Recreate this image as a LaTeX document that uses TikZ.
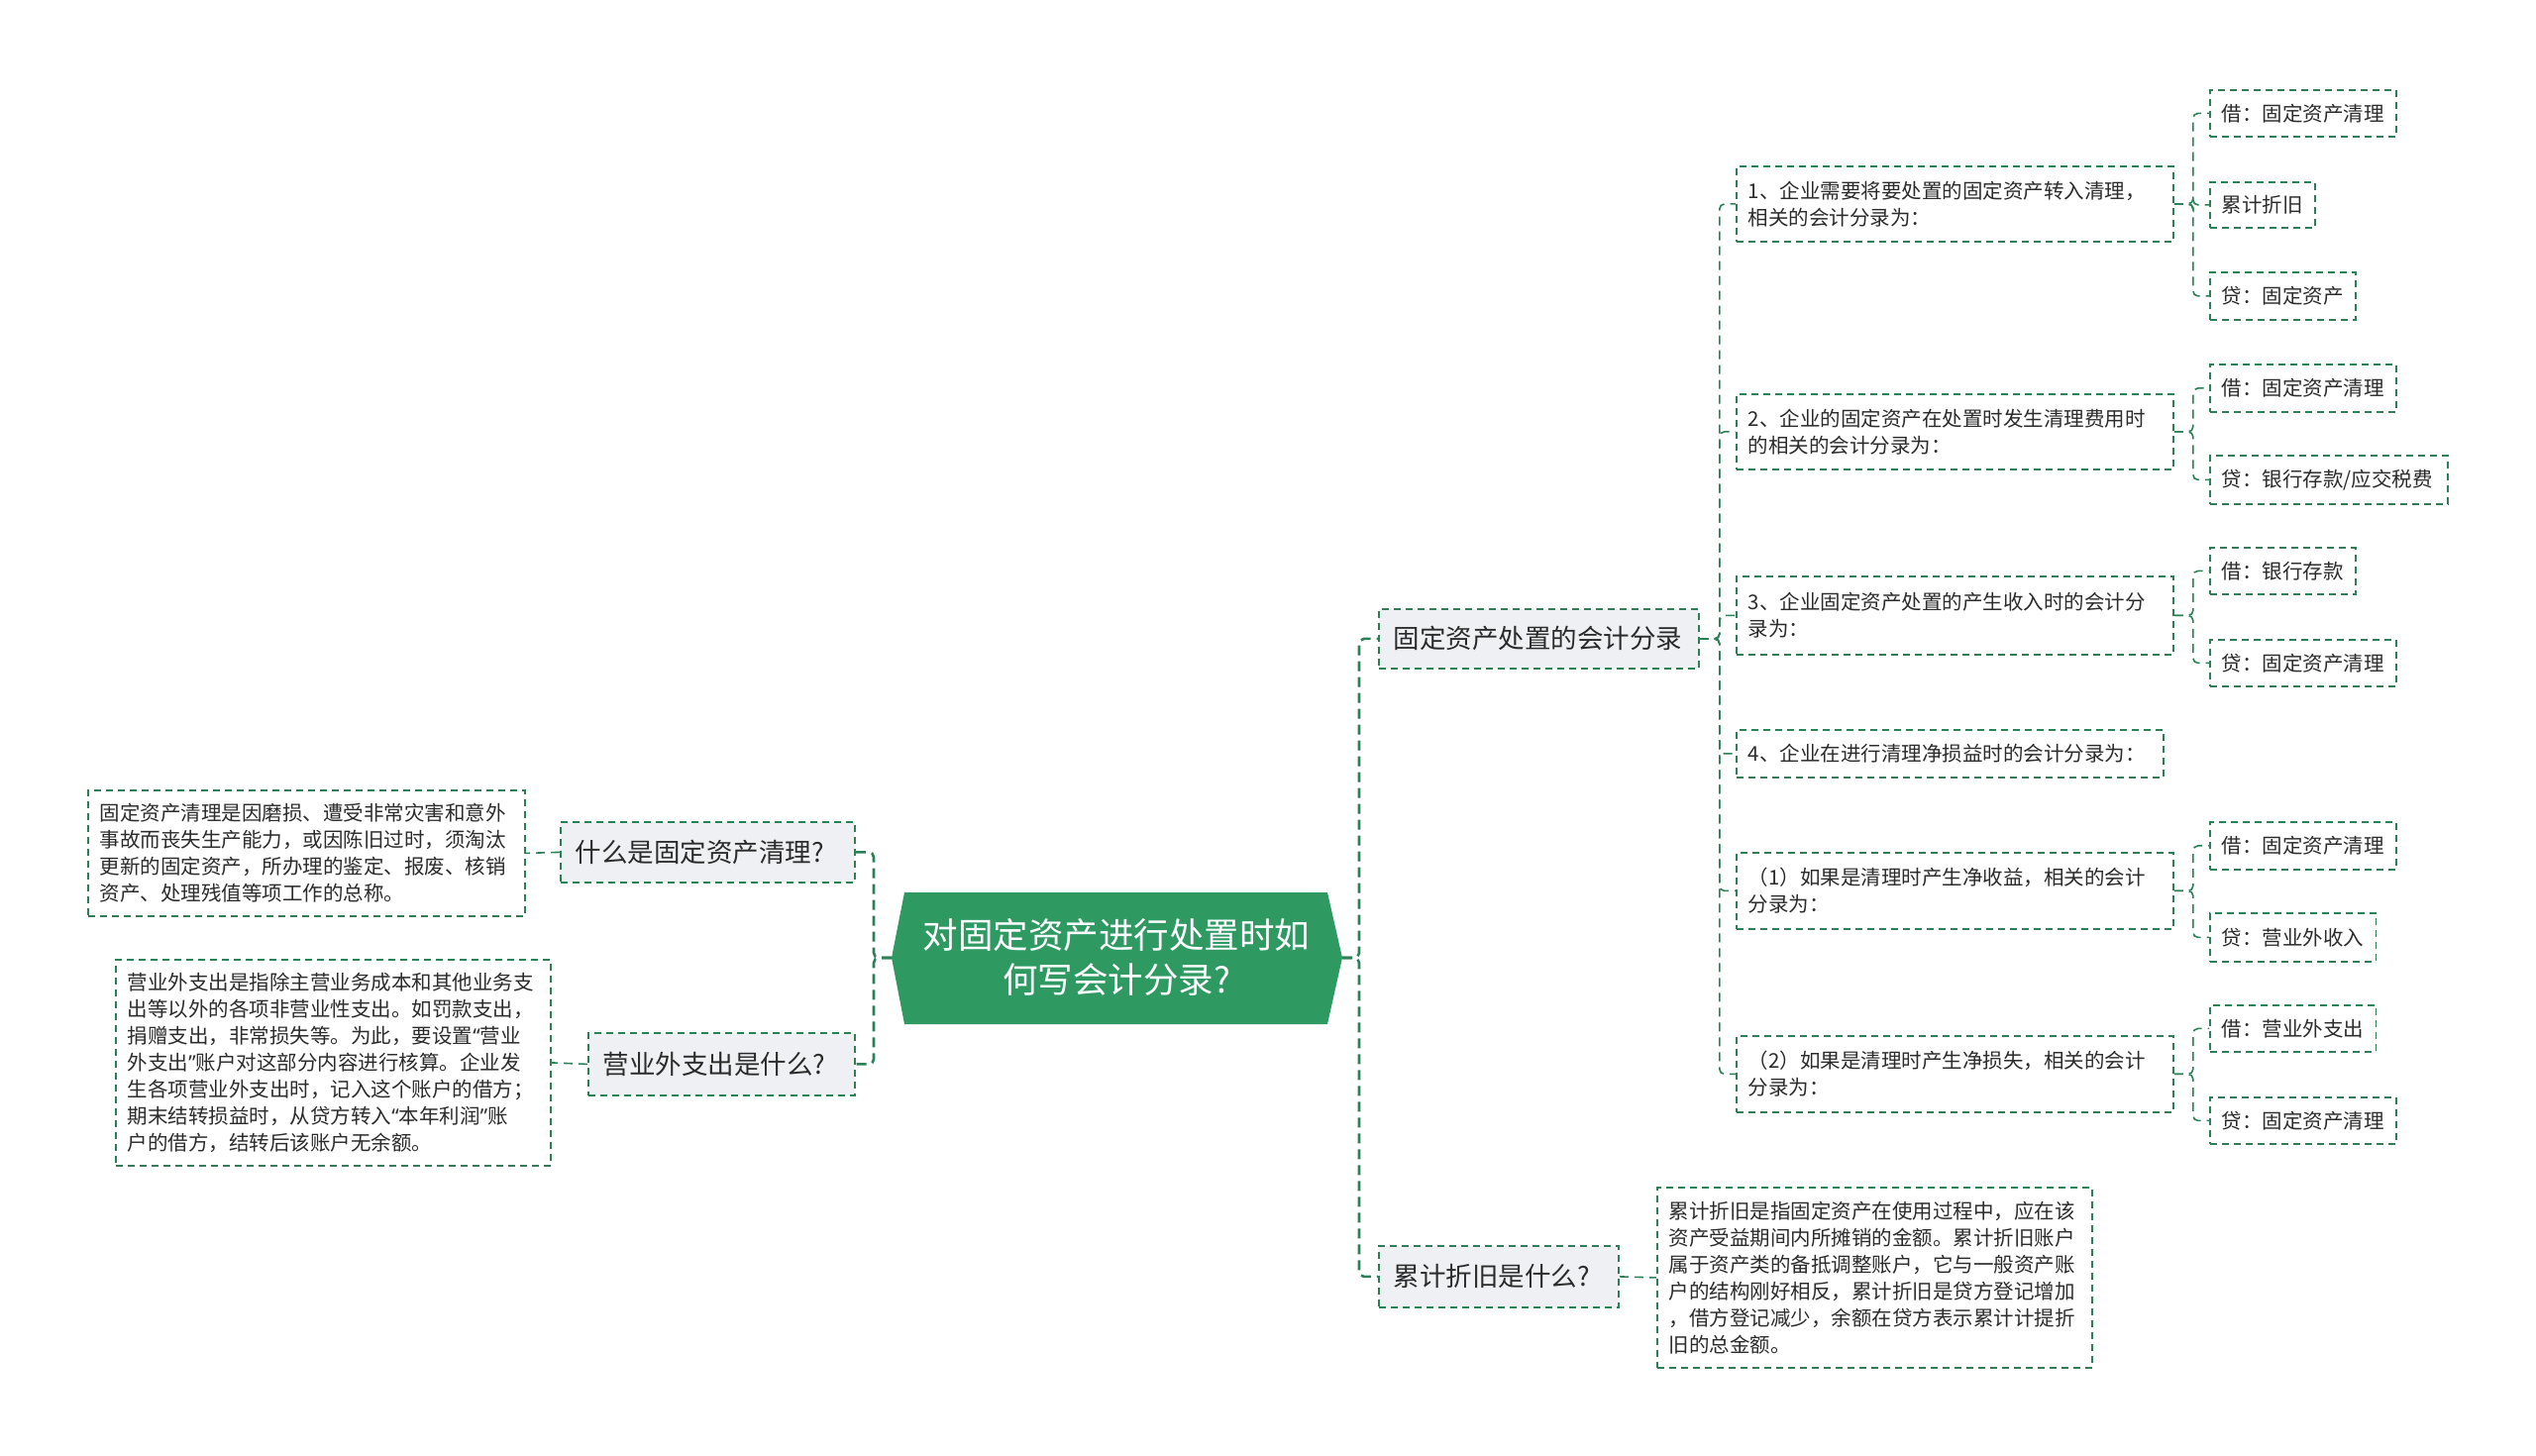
\documentclass[tikz,border=0pt]{standalone}
\usepackage{fontspec}
\setmainfont{Noto Sans CJK SC}
\newfontfamily\latq{Noto Sans}
\newcommand\myLq{{\latq “}}
\newcommand\myRq{{\latq ”}}
\definecolor{lg}{HTML}{2B8056}
\definecolor{rootg}{HTML}{2E9A62}
\definecolor{lfill}{HTML}{EEF0F3}
\definecolor{txt}{HTML}{2B2B2B}
\tikzset{
  box/.style={draw=lg, line width=1.8pt, dash pattern=on 7pt off 5pt, anchor=north west, inner ysep=0pt, align=left, text=txt},
  leaf/.style={box, inner xsep=12pt, font=\fontsize{20.5}{27}\selectfont},
  topic/.style={box, inner xsep=15pt, fill=lfill, font=\fontsize{26.5}{32}\selectfont},
  conn/.style={draw=lg, line width=1.6pt, dash pattern=on 9pt off 6pt, rounded corners=5pt},
  mainconn/.style={conn, line width=2.6pt, dash pattern=on 10pt off 6pt},
}
\begin{document}
\begin{tikzpicture}[x=1pt,y=-1pt]
\useasboundingbox (0,0) rectangle (2560,1470);
% root
\fill[rootg] (913,901) -- (1340,901) -- (1355,967) -- (1340,1034) -- (913,1034) -- (900,967) -- cycle;
\node[font=\fontsize{35.5}{45}\selectfont, text=white, align=center] (root) at (1127,966) {对固定资产进行处置时如\\何写会计分录?};
\coordinate (rootE) at (1355,967);
\coordinate (rootW) at (900,967);
% level 1
\node[topic, text width=267pt, minimum width=297pt, minimum height=61pt] (A1) at (565,829) {什么是固定资产清理?};
\node[topic, text width=239pt, minimum width=269pt, minimum height=63pt] (A2) at (593,1042) {营业外支出是什么?};
\node[topic, text width=293pt, minimum width=323pt, minimum height=60pt] (B1) at (1391,614) {固定资产处置的会计分录};
\node[topic, text width=212pt, minimum width=242pt, minimum height=62pt] (B2) at (1391,1257) {累计折旧是什么?};
% descriptions
\node[leaf, text width=417pt, minimum width=441pt, minimum height=127pt] (A1d) at (88,797) {固定资产清理是因磨损、遭受非常灾害和意外\\事故而丧失生产能力，或因陈旧过时，须淘汰\\更新的固定资产，所办理的鉴定、报废、核销\\资产、处理残值等项工作的总称。};
\node[leaf, text width=415pt, minimum width=439pt, minimum height=208pt] (A2d) at (116,968) {营业外支出是指除主营业务成本和其他业务支\\出等以外的各项非营业性支出。如罚款支出，\\捐赠支出，非常损失等。为此，要设置\myLq 营业\\外支出\myRq 账户对这部分内容进行核算。企业发\\生各项营业外支出时，记入这个账户的借方；\\期末结转损益时，从贷方转入\myLq 本年利润\myRq 账\\户的借方，结转后该账户无余额。};
\node[leaf, text width=415pt, minimum width=439pt, minimum height=182pt] (B2d) at (1672,1198) {累计折旧是指固定资产在使用过程中，应在该\\资产受益期间内所摊销的金额。累计折旧账户\\属于资产类的备抵调整账户，它与一般资产账\\户的结构刚好相反，累计折旧是贷方登记增加\\，借方登记减少，余额在贷方表示累计计提折\\旧的总金额。};
% level 2 under B1
\node[leaf, text width=417pt, minimum width=441pt, minimum height=76pt] (C1) at (1752,167) {1、企业需要将要处置的固定资产转入清理，\\相关的会计分录为：};
\node[leaf, text width=417pt, minimum width=441pt, minimum height=76pt] (C2) at (1752,397) {2、企业的固定资产在处置时发生清理费用时\\的相关的会计分录为：};
\node[leaf, text width=417pt, minimum width=441pt, minimum height=79pt] (C3) at (1752,581) {3、企业固定资产处置的产生收入时的会计分\\录为：};
\node[leaf, text width=407pt, minimum width=431pt, minimum height=48pt] (C4) at (1752,736) {4、企业在进行清理净损益时的会计分录为：};
\node[leaf, text width=417pt, minimum width=441pt, minimum height=77pt] (C5) at (1752,860) {（1）如果是清理时产生净收益，相关的会计\\分录为：};
\node[leaf, text width=417pt, minimum width=441pt, minimum height=77pt] (C6) at (1752,1045) {（2）如果是清理时产生净损失，相关的会计\\分录为：};
% level 3
\node[leaf, minimum height=47pt] (D1) at (2230,90) {借：固定资产清理};
\node[leaf, minimum height=46pt] (D2) at (2230,183) {累计折旧};
\node[leaf, minimum height=48pt] (D3) at (2230,274) {贷：固定资产};
\node[leaf, minimum height=48pt] (D4) at (2230,367) {借：固定资产清理};
\node[leaf, text width=216pt, minimum width=240pt, minimum height=49pt] (D5) at (2230,459) {贷：银行存款/应交税费};
\node[leaf, minimum height=47pt] (D6) at (2230,552) {借：银行存款};
\node[leaf, minimum height=47pt] (D7) at (2230,645) {贷：固定资产清理};
\node[leaf, minimum height=48pt] (D8) at (2230,829) {借：固定资产清理};
\node[leaf, minimum height=49pt] (D9) at (2230,921) {贷：营业外收入};
\node[leaf, minimum height=47pt] (D10) at (2230,1014) {借：营业外支出};
\node[leaf, minimum height=47pt] (D11) at (2230,1107) {贷：固定资产清理};
% connectors
\draw[mainconn] (rootW) -- ++(-18,0) |- (A1.east);
\draw[mainconn] (rootW) -- ++(-18,0) |- (A2.east);
\draw[mainconn] (rootE) -- ++(17,0) |- (B1.west);
\draw[mainconn] (rootE) -- ++(17,0) |- (B2.west);
\draw[conn] (A1.west) -- (A1d.east);
\draw[conn] (A2.west) -- (A2d.east);
\draw[conn] (B2.east) -- (B2d.west);
\foreach \c in {C1,C2,C3,C4,C5,C6}{\draw[conn] (B1.east) -- ++(20,0) |- (\c.west);}
\foreach \p/\c in {C1/D1,C1/D2,C1/D3,C2/D4,C2/D5,C3/D6,C3/D7,C5/D8,C5/D9,C6/D10,C6/D11}{\draw[conn] (\p.east) -- ++(19,0) |- (\c.west);}
\end{tikzpicture}
\end{document}
